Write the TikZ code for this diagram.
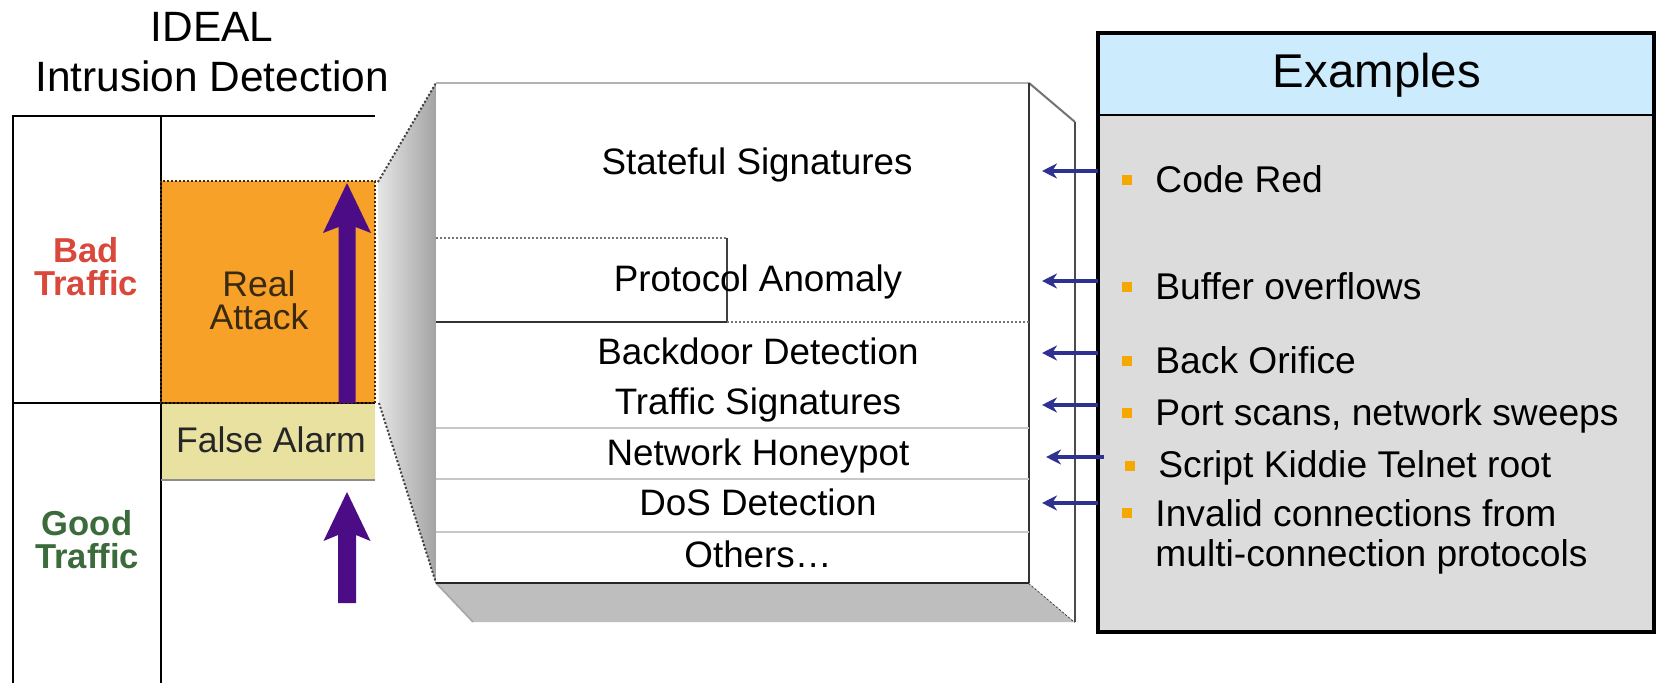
\documentclass[tikz,border=0pt]{standalone}
\usepackage{fontspec}
\setmainfont{Liberation Sans}
\usetikzlibrary{arrows.meta}
\definecolor{orangefill}{HTML}{F7A128}
\definecolor{khaki}{HTML}{E8E1A0}
\definecolor{purp}{HTML}{4B0C86}
\definecolor{navy}{HTML}{2E3192}
\definecolor{hdrblue}{HTML}{CCEBFC}
\definecolor{bodygray}{HTML}{DCDCDC}
\definecolor{bulletc}{HTML}{F5A800}
\definecolor{badred}{HTML}{D9483B}
\definecolor{goodgreen}{HTML}{3B6B3B}
\definecolor{sidegray}{HTML}{BEBEBE}
\definecolor{darktxt}{HTML}{3A2A12}
\begin{document}
\begin{tikzpicture}[x=0.5pt,y=-0.5pt,
  titletxt/.style={font=\fontsize{21.2}{25}\selectfont, anchor=base, inner sep=0pt},
  boxtxt/.style={font=\fontsize{18.4}{22}\selectfont, anchor=base, inner sep=0pt},
  leftlbl/.style={font=\fontsize{17.3}{16.5}\selectfont\bfseries, align=center, inner sep=0pt},
  celltxt/.style={font=\fontsize{17.8}{16.5}\selectfont, align=center, inner sep=0pt, text=darktxt},
  item/.style={font=\fontsize{18.6}{20}\selectfont, anchor=base west, inner sep=0pt, align=left},
  bul/.style={fill=bulletc, minimum size=5pt, inner sep=0pt},
  exarrow/.style={navy, line width=1.7pt, -{Stealth[length=7.5pt,width=7.5pt]}},
  gridline/.style={black, line width=0.9pt},
  dotborder/.style={densely dotted, draw=black!70!orange, line width=1pt},
  calloutedge/.style={densely dotted, draw=black!75, line width=1pt},
  sepline/.style={black!22, line width=1.3pt},
]
\useasboundingbox (0,0) rectangle (1658,683);
\fill[white] (0,0) rectangle (1658,683);

% ---------- title ----------
\node[titletxt] (ideal) at (212,42) {IDEAL};
\node[titletxt] (intr) at (212,92) {Intrusion Detection};

% ---------- left table ----------
\fill[orangefill] (161,181) rectangle (375,403);
\fill[khaki] (161,403) rectangle (375,480);
\draw[gridline] (13,683) -- (13,116) -- (375,116);
\draw[gridline] (161,116) -- (161,683);
\draw[gridline] (13,403) -- (375,403);
\draw[dotborder] (161,181) rectangle (375,403);
\draw[black!45, line width=0.8pt] (161,480) -- (375,480);

\node[leftlbl, text=badred] (bad) at (86,267) {Bad\\Traffic};
\node[leftlbl, text=goodgreen] (good) at (87,540) {Good\\Traffic};
\node[celltxt] (real) at (259,300) {Real\\Attack};
\node[celltxt, text=black!85] (false) at (271,440) {False Alarm};

% purple arrows
\fill[purp] (338.5,403) -- (338.5,227) -- (323,233) -- (347,183) -- (371,233) -- (355.5,227) -- (355.5,403) -- cycle;
\fill[purp] (338,603) -- (338,535) -- (323.5,541) -- (347,492) -- (370.5,541) -- (356,535) -- (356,603) -- cycle;

% ---------- callout side face ----------
\shade[left color=black!10, right color=black!36] (378,182) -- (436,83) -- (436,583) -- (379,403) -- cycle;
\draw[calloutedge] (378,182) -- (436,83);
\draw[calloutedge] (379,403) -- (436,583);

% ---------- 3D box ----------
\fill[sidegray] (436,583) -- (1029,583) -- (1075,622) -- (473,622) -- cycle;
\draw[black!35, line width=0.8pt] (436,583) -- (473,622);
\draw[calloutedge] (1029,583) -- (1075,622);
\fill[white] (1029,83) -- (1075,122) -- (1075,622) -- (1029,583) -- cycle;
\draw[black!55, line width=1pt] (1029,83) -- (1075,122);
\draw[black!70, line width=1.1pt] (1075,122) -- (1075,622);
\fill[white] (436,83) rectangle (1029,583);
\draw[black!30, line width=1pt] (436,83) -- (1029,83);
\draw[black!80, line width=1.1pt] (1029,83) -- (1029,583);
\draw[black!85, line width=1.3pt] (436,583) -- (1029,583);

\draw[densely dotted, black!55, line width=1pt] (436,238) -- (727,238);
\draw[black!75, line width=0.9pt] (727,238) -- (727,322);
\draw[black!80, line width=1.2pt] (436,322) -- (727,322);
\draw[densely dotted, black!55, line width=1pt] (727,322) -- (1029,322);
\draw[sepline] (436,428) -- (1029,428);
\draw[sepline] (436,479) -- (1029,479);
\draw[sepline] (436,532) -- (1029,532);

\node[boxtxt] (st) at (757,175) {Stateful Signatures};
\node[boxtxt] (pa) at (758,292) {Protocol Anomaly};
\node[boxtxt] (bd) at (758,365) {Backdoor Detection};
\node[boxtxt] (ts) at (758,415) {Traffic Signatures};
\node[boxtxt] (nh) at (758,466) {Network Honeypot};
\node[boxtxt] (dos) at (758,516) {DoS Detection};
\node[boxtxt] (oth) at (758,567) {Others…};

% ---------- Examples box ----------
\fill[bodygray] (1098,115) rectangle (1654,632);
\fill[hdrblue] (1098,33) rectangle (1654,115);
\draw[black, line width=0.9pt] (1098,115) -- (1654,115);
\draw[black, line width=2.2pt] (1098,33) rectangle (1654,632);
\node[font=\fontsize{23.7}{26}\selectfont, anchor=base, inner sep=0pt] (exh) at (1377,88) {Examples};

\node[bul] (b1) at (1127,180) {};
\node[bul] (b2) at (1127,287) {};
\node[bul] (b3) at (1127,361) {};
\node[bul] (b4) at (1127,413) {};
\node[bul] (b5) at (1130,466) {};
\node[bul] (b6) at (1127,513) {};
\node[item] (i1) at (1155,193) {Code Red};
\node[item] (i2) at (1155,300) {Buffer overflows};
\node[item] (i3) at (1155,374) {Back Orifice};
\node[item] (i4) at (1155,426) {Port scans, network sweeps};
\node[item] (i5) at (1158,478) {Script Kiddie Telnet root};
\node[item] (i6) at (1155,566) {Invalid connections from\\multi-connection protocols};

% arrows from examples to the box
\coordinate (s1) at (1098,171); \coordinate (e1) at (1042,171);
\coordinate (s2) at (1098,281); \coordinate (e2) at (1042,281);
\coordinate (s3) at (1098,353); \coordinate (e3) at (1042,353);
\coordinate (s4) at (1098,405); \coordinate (e4) at (1042,405);
\coordinate (s5) at (1104,457); \coordinate (e5) at (1046,457);
\coordinate (s6) at (1098,503); \coordinate (e6) at (1042,503);
\foreach \i in {1,...,6} {\draw[exarrow] (s\i) -- (e\i);}
\end{tikzpicture}
\end{document}
